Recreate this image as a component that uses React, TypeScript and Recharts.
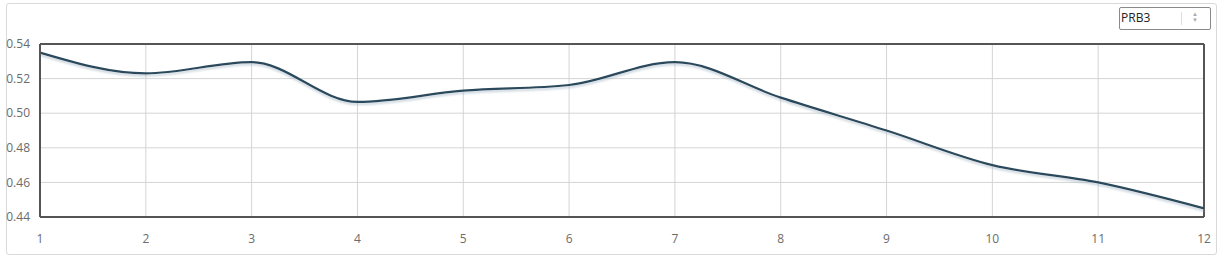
import { LineChart, Line, XAxis, YAxis, CartesianGrid, ReferenceLine } from "recharts";

const periods = [1, 2, 3, 4, 5, 6, 7, 8, 9, 10, 11, 12];
const prbValues = [0.535, 0.523, 0.5295, 0.5065, 0.513, 0.5163, 0.5295, 0.509, 0.49, 0.47, 0.46, 0.445];
const yTicks = [0.44, 0.46, 0.48, 0.5, 0.52, 0.54];

const data = periods.map((p, i) => ({ period: p, value: prbValues[i] }));

const tickStyle = { fill: "#6b6b6b", fontSize: 12, fontFamily: "'Open Sans', sans-serif" };

export default function App() {
  return (
    <div style={{ position: "fixed", left: 0, top: 0, width: 1223, height: 259, background: "#fff" }}>
      <div
        style={{
          position: "absolute",
          left: 6,
          top: 3,
          width: 1209,
          height: 250,
          border: "1px solid #d9d9d9",
          borderRadius: 3,
        }}
      />
      <div
        style={{
          position: "absolute",
          left: 1119,
          top: 7,
          width: 92,
          height: 23,
          border: "1px solid #8a8a8a",
          borderRadius: 2,
          boxSizing: "border-box",
          fontFamily: "'Open Sans', sans-serif",
          fontSize: 12,
          color: "#222",
          lineHeight: "20px",
          paddingLeft: 1,
        }}
      >
        PRB3
        <span style={{ position: "absolute", left: 61, top: 4, width: 1, height: 13, background: "#ddd" }} />
        <span style={{ position: "absolute", left: 72, top: 3, fontSize: 6, color: "#aaa", lineHeight: "6px" }}>
          ▲<br />▼
        </span>
      </div>
      <div style={{ position: "absolute", left: 0, top: 0 }}>
        <LineChart width={1223} height={259} data={data} margin={{ top: 44, right: 19, bottom: 12, left: 6 }}>
          <defs>
            <filter id="lineShadow" x="-5%" y="-20%" width="110%" height="140%">
              <feDropShadow dx="0" dy="2" stdDeviation="1" floodColor="#9fb3c2" floodOpacity="0.6" />
            </filter>
          </defs>
          <CartesianGrid stroke="#d4d4d4" strokeWidth={1} />
          <XAxis
            dataKey="period"
            type="number"
            domain={[1, 12]}
            ticks={periods}
            tickLine={false}
            axisLine={{ stroke: "#555", strokeWidth: 2 }}
            tick={tickStyle}
            tickMargin={11}
            height={30}
          />
          <YAxis
            domain={[0.44, 0.54]}
            ticks={yTicks}
            tickFormatter={(v: number) => v.toFixed(2)}
            tickLine={false}
            axisLine={{ stroke: "#555", strokeWidth: 2 }}
            tick={tickStyle}
            tickMargin={4}
            width={34}
          />
          <ReferenceLine y={0.54} stroke="#555" strokeWidth={2} />
          <ReferenceLine x={12} stroke="#555" strokeWidth={2} />
          <Line
            type="monotone"
            dataKey="value"
            stroke="#2b4a5d"
            strokeWidth={2.2}
            dot={false}
            activeDot={false}
            filter="url(#lineShadow)"
            isAnimationActive={false}
          />
        </LineChart>
      </div>
    </div>
  );
}
